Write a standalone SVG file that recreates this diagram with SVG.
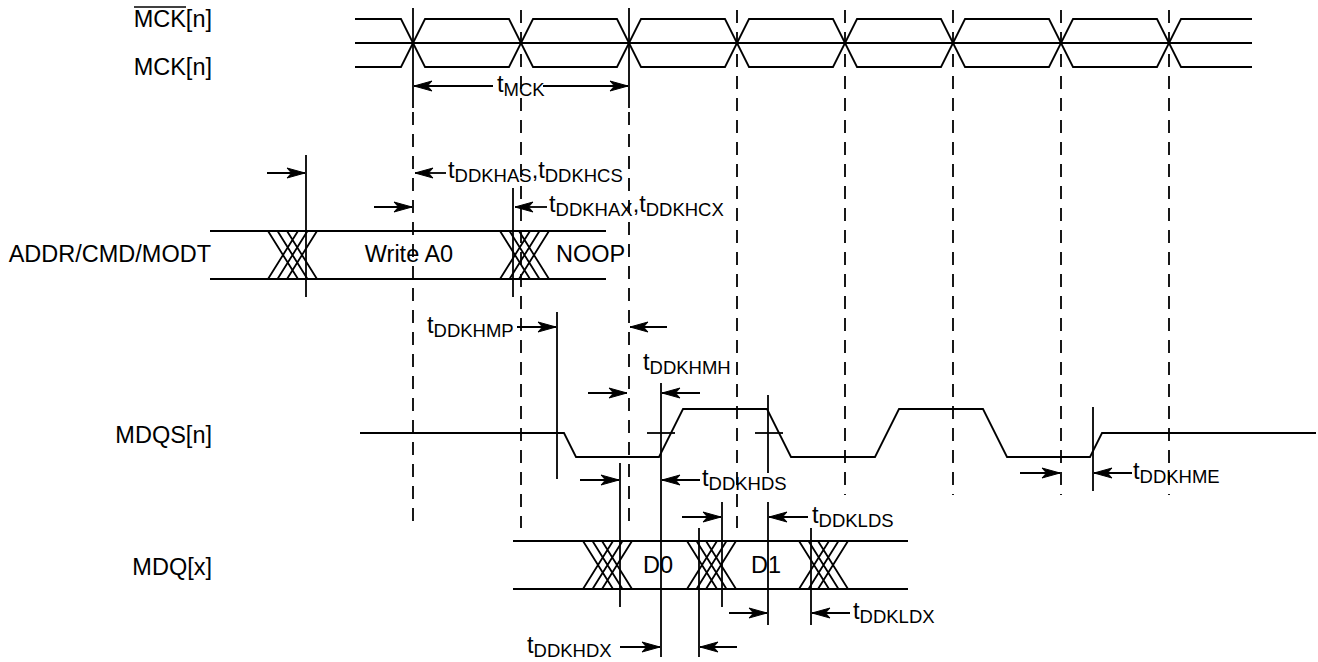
<svg xmlns="http://www.w3.org/2000/svg" width="1318" height="662" viewBox="0 0 1318 662">
<style>
  .w{fill:none;stroke:#000;stroke-width:1.8;stroke-linejoin:miter}
  .s{stroke:#000;stroke-width:1.8;fill:none}
  .d{stroke:#000;stroke-width:1.8;stroke-dasharray:13,9;fill:none}
  .a{stroke:#000;stroke-width:1.8;fill:none;marker-end:url(#ah)}
  .ahp{fill:#000;stroke:#000;stroke-width:1;stroke-linejoin:miter}
  text{font-family:"Liberation Sans",Arial,Helvetica,sans-serif;fill:#000}
  .lbl{font-size:23.5px}
  .sub{font-size:18.5px}
</style>
<defs>
  <marker id="ah" markerUnits="userSpaceOnUse" markerWidth="24" markerHeight="16" viewBox="-2 -3 24 16" refX="18" refY="5" orient="auto" overflow="visible">
    <path class="ahp" d="M0,0 L18,5 L0,10 L4.5,5 z"/>
  </marker>
</defs>
<rect width="1318" height="662" fill="#fff"/>

<g id="signal-labels">
  <text class="lbl" x="212" y="27" text-anchor="end">MCK[n]</text>
  <line class="s" x1="134" y1="7" x2="186" y2="7" style="stroke-width:1.5"/>
  <text class="lbl" x="212" y="75" text-anchor="end">MCK[n]</text>
  <text class="lbl" x="211" y="262" text-anchor="end">ADDR/CMD/MODT</text>
  <text class="lbl" x="212" y="443" text-anchor="end">MDQS[n]</text>
  <text class="lbl" x="212" y="575" text-anchor="end">MDQ[x]</text>
</g>

<g id="clock">
  <line class="w" x1="355" y1="43" x2="1252" y2="43"/>
  <path class="w" d="M355,19 L401,19 L425,67 L509,67 L533,19 L617,19 L641,67 L725,67 L749,19 L833,19 L857,67 L941,67 L965,19 L1049,19 L1073,67 L1157,67 L1181,19 L1252,19"/>
  <path class="w" d="M355,67 L401,67 L425,19 L509,19 L533,67 L617,67 L641,19 L725,19 L749,67 L833,67 L857,19 L941,19 L965,67 L1049,67 L1073,19 L1157,19 L1181,67 L1252,67"/>
</g>

<g id="reference-lines">
  <line class="s" x1="413" y1="8" x2="413" y2="108"/>
  <line class="s" x1="629" y1="8" x2="629" y2="108"/>
  <line class="d" x1="413" y1="112" x2="413" y2="528"/>
  <line class="d" x1="521" y1="10" x2="521" y2="528"/>
  <line class="d" x1="629" y1="112" x2="629" y2="528"/>
  <line class="d" x1="737" y1="10" x2="737" y2="528"/>
  <line class="d" x1="845" y1="10" x2="845" y2="495"/>
  <line class="d" x1="953" y1="10" x2="953" y2="495"/>
  <line class="d" x1="1061" y1="10" x2="1061" y2="495"/>
  <line class="d" x1="1169" y1="10" x2="1169" y2="495"/>
  <line class="s" x1="306" y1="155" x2="306" y2="297"/>
  <line class="s" x1="513" y1="188" x2="513" y2="297"/>
  <line class="s" x1="557" y1="312" x2="557" y2="479"/>
  <line class="s" x1="620" y1="463" x2="620" y2="607"/>
  <line class="s" x1="661" y1="383" x2="661" y2="657"/>
  <line class="s" x1="699" y1="528" x2="699" y2="657"/>
  <line class="s" x1="722" y1="502" x2="722" y2="607"/>
  <line class="s" x1="768" y1="395" x2="768" y2="473"/>
  <line class="s" x1="768" y1="502" x2="768" y2="625"/>
  <line class="s" x1="811" y1="528" x2="811" y2="625"/>
  <line class="s" x1="1093" y1="407" x2="1093" y2="491"/>
  <line class="s" x1="647" y1="433" x2="675" y2="433"/>
  <line class="s" x1="755" y1="433" x2="783" y2="433"/>
</g>

<g id="addr-bus">
  <line class="w" x1="210" y1="231" x2="606" y2="231"/>
  <line class="w" x1="210" y1="279" x2="606" y2="279"/>
  <path class="w" d="M268,231 L298,279 M268,279 L298,231 M277.5,231 L307.5,279 M277.5,279 L307.5,231 M287,231 L317,279 M287,279 L317,231"/>
  <path class="w" d="M500,231 L530,279 M500,279 L530,231 M509.5,231 L539.5,279 M509.5,279 L539.5,231 M519,231 L549,279 M519,279 L549,231"/>
  <text class="lbl" x="409" y="262" text-anchor="middle">Write A0</text>
  <text class="lbl" x="556" y="262">NOOP</text>
</g>

<g id="mdqs">
  <path class="w" d="M360,433 L564,433 L576,457 L659,457 L683,409 L767,409 L791,457 L875,457 L899,409 L983,409 L1007,457 L1090,457 L1102,433 L1316,433"/>
</g>

<g id="mdq-bus">
  <line class="w" x1="513" y1="541" x2="908" y2="541"/>
  <line class="w" x1="513" y1="589" x2="908" y2="589"/>
  <path class="w" d="M583,541 L613,589 M583,589 L613,541 M592.5,541 L622.5,589 M592.5,589 L622.5,541 M602,541 L632,589 M602,589 L632,541"/>
  <path class="w" d="M687,541 L717,589 M687,589 L717,541 M696.5,541 L726.5,589 M696.5,589 L726.5,541 M706,541 L736,589 M706,589 L736,541"/>
  <path class="w" d="M799,541 L829,589 M799,589 L829,541 M808.5,541 L838.5,589 M808.5,589 L838.5,541 M818,541 L848,589 M818,589 L848,541"/>
  <text class="lbl" x="658" y="573" text-anchor="middle">D0</text>
  <text class="lbl" x="766" y="573" text-anchor="middle">D1</text>
</g>

<g id="connectors">
  <line class="a" x1="493" y1="86" x2="414" y2="86"/>
  <line class="a" x1="543" y1="86" x2="628" y2="86"/>
  <line class="a" x1="267" y1="173" x2="305" y2="173"/>
  <line class="a" x1="446" y1="173" x2="415" y2="173"/>
  <line class="a" x1="374" y1="207" x2="412" y2="207"/>
  <line class="a" x1="547" y1="207" x2="515" y2="207"/>
  <line class="a" x1="517" y1="327" x2="556" y2="327"/>
  <line class="a" x1="667" y1="327" x2="630" y2="327"/>
  <line class="a" x1="588" y1="393" x2="627" y2="393"/>
  <line class="a" x1="700" y1="393" x2="662" y2="393"/>
  <line class="a" x1="580" y1="480" x2="619" y2="480"/>
  <line class="a" x1="700" y1="480" x2="662" y2="480"/>
  <line class="a" x1="682" y1="517" x2="721" y2="517"/>
  <line class="a" x1="808" y1="517" x2="769" y2="517"/>
  <line class="a" x1="729" y1="613" x2="767" y2="613"/>
  <line class="a" x1="850" y1="613" x2="812" y2="613"/>
  <line class="a" x1="620" y1="647" x2="660" y2="647"/>
  <line class="a" x1="737" y1="647" x2="700" y2="647"/>
  <line class="a" x1="1020" y1="473" x2="1060" y2="473"/>
  <line class="a" x1="1132" y1="473" x2="1094" y2="473"/>
</g>

<g id="timing-labels">
  <text class="lbl" x="497" y="92">t<tspan class="sub" dy="4">MCK</tspan></text>
  <text class="lbl" x="448" y="178">t<tspan class="sub" dy="4">DDKHAS</tspan><tspan dy="-4">,t</tspan><tspan class="sub" dy="4">DDKHCS</tspan></text>
  <text class="lbl" x="549" y="212">t<tspan class="sub" dy="4">DDKHAX</tspan><tspan dy="-4">,t</tspan><tspan class="sub" dy="4">DDKHCX</tspan></text>
  <text class="lbl" x="427" y="333">t<tspan class="sub" dy="4">DDKHMP</tspan></text>
  <text class="lbl" x="643" y="370">t<tspan class="sub" dy="4">DDKHMH</tspan></text>
  <text class="lbl" x="702" y="486">t<tspan class="sub" dy="4">DDKHDS</tspan></text>
  <text class="lbl" x="812" y="523">t<tspan class="sub" dy="4">DDKLDS</tspan></text>
  <text class="lbl" x="853" y="619">t<tspan class="sub" dy="4">DDKLDX</tspan></text>
  <text class="lbl" x="527" y="653">t<tspan class="sub" dy="4">DDKHDX</tspan></text>
  <text class="lbl" x="1133" y="479">t<tspan class="sub" dy="4">DDKHME</tspan></text>
</g>
</svg>
